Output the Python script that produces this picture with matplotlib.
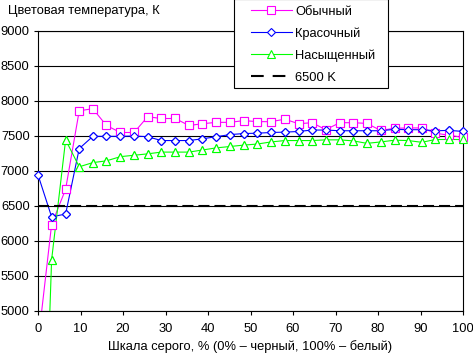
import numpy as np
import matplotlib
matplotlib.use("Agg")
import matplotlib.pyplot as plt
from matplotlib.lines import Line2D
from matplotlib.patches import Rectangle

plt.rcParams['font.family'] = ['Liberation Sans', 'DejaVu Sans']

x = [0, 3.2, 6.5, 9.7, 12.9, 16.1, 19.4, 22.6, 25.8, 29.0, 32.3, 35.5, 38.7, 41.9,
     45.2, 48.4, 51.6, 54.8, 58.1, 61.3, 64.5, 67.7, 71.0, 74.2, 77.4, 80.6, 83.9,
     87.1, 90.3, 93.5, 96.8, 100]

normal = [4540, 6235, 6740, 7860, 7890, 7650, 7550, 7550, 7775, 7750, 7750, 7650,
          7675, 7695, 7695, 7720, 7705, 7705, 7740, 7675, 7690, 7590, 7690, 7690,
          7680, 7580, 7610, 7615, 7615, 7540, 7510, 7480]
vivid = [6945, 6345, 6385, 7320, 7495, 7495, 7495, 7500, 7490, 7435, 7435, 7435,
         7460, 7490, 7520, 7535, 7540, 7550, 7555, 7565, 7585, 7585, 7575, 7575,
         7575, 7575, 7595, 7590, 7590, 7575, 7580, 7565]
saturated = [0, 5730, 7445, 7060, 7120, 7145, 7205, 7225, 7245, 7270, 7270, 7270,
             7300, 7330, 7350, 7370, 7385, 7415, 7435, 7435, 7435, 7445, 7445, 7430,
             7395, 7415, 7440, 7435, 7410, 7450, 7450, 7450]
ref_x = [0, 100]
ref_y = [6500, 6500]

labels = ["Обычный", "Красочный", "Насыщенный", "6500 K"]
colors = ["#FF00FF", "#0000FF", "#00FF00"]
markers = ["s", "D", "^"]
msizes = [5.4, 4.5, 6.2]
series = [normal, vivid, saturated]

FS = 9.3
W, H = 473, 354
fig = plt.figure(figsize=(W / 100, H / 100), dpi=100)
L, R, T, B = 38, 463, 31, 311
ax = fig.add_axes([L / W, 1 - B / H, (R - L) / W, (B - T) / H])

handles = []
for vals, c, m, ms, lab in zip(series, colors, markers, msizes, labels):
    h, = ax.plot(x, vals, color=c, lw=0.8, marker=m, ms=ms, mfc='white', mec=c,
                 mew=0.8, label=lab, zorder=3)
    handles.append(h)
    vm = np.ma.masked_outside(np.array(vals, dtype=float), 5000, 9000)
    ax.plot(x, vm, ls='none', marker=m, ms=ms, mfc='white', mec=c, mew=0.8,
            clip_on=False, zorder=4)

ax.plot(ref_x, ref_y, color='black', lw=1.5, dashes=(5.3, 2.4), zorder=5)
handles.append(Line2D([], [], color='black', lw=1.5, dashes=(6.1, 4.3)))

ax.set_xlim(0, 100)
ax.set_ylim(5000, 9000)
ax.set_xticks(range(0, 101, 10))
ax.set_yticks(range(5000, 9001, 500))
ax.yaxis.grid(True, color='black', lw=0.8)
ax.set_axisbelow(True)
for s in ax.spines.values():
    s.set_color('black')
    s.set_linewidth(0.8)
ax.tick_params(direction='out', length=3, width=0.8, labelsize=FS, pad=3,
               colors='black')
ax.tick_params(axis='x', pad=6)
ax.set_xlabel("Шкала серого, % (0% – черный, 100% – белый)", fontsize=FS, labelpad=3)

fig.text(8 / W, 1 - 11 / H, "Цветовая температура, К", fontsize=FS, va='center', ha='left')

rect = Rectangle((234 / W, 1 - 87.5 / H), (388 - 234) / W, 88.5 / H,
                 transform=fig.transFigure, facecolor='white', edgecolor='black',
                 lw=0.8, zorder=6)
fig.add_artist(rect)
leg = fig.legend(handles, labels, loc='upper left',
                 bbox_to_anchor=(250.7 / W, 1 - 5.5 / H), frameon=False,
                 handlelength=3.2, handletextpad=0.25, labelspacing=0.75,
                 borderpad=0, borderaxespad=0, fontsize=FS, numpoints=1)
leg.set_zorder(7)

fig.savefig("out.png", dpi=100)
